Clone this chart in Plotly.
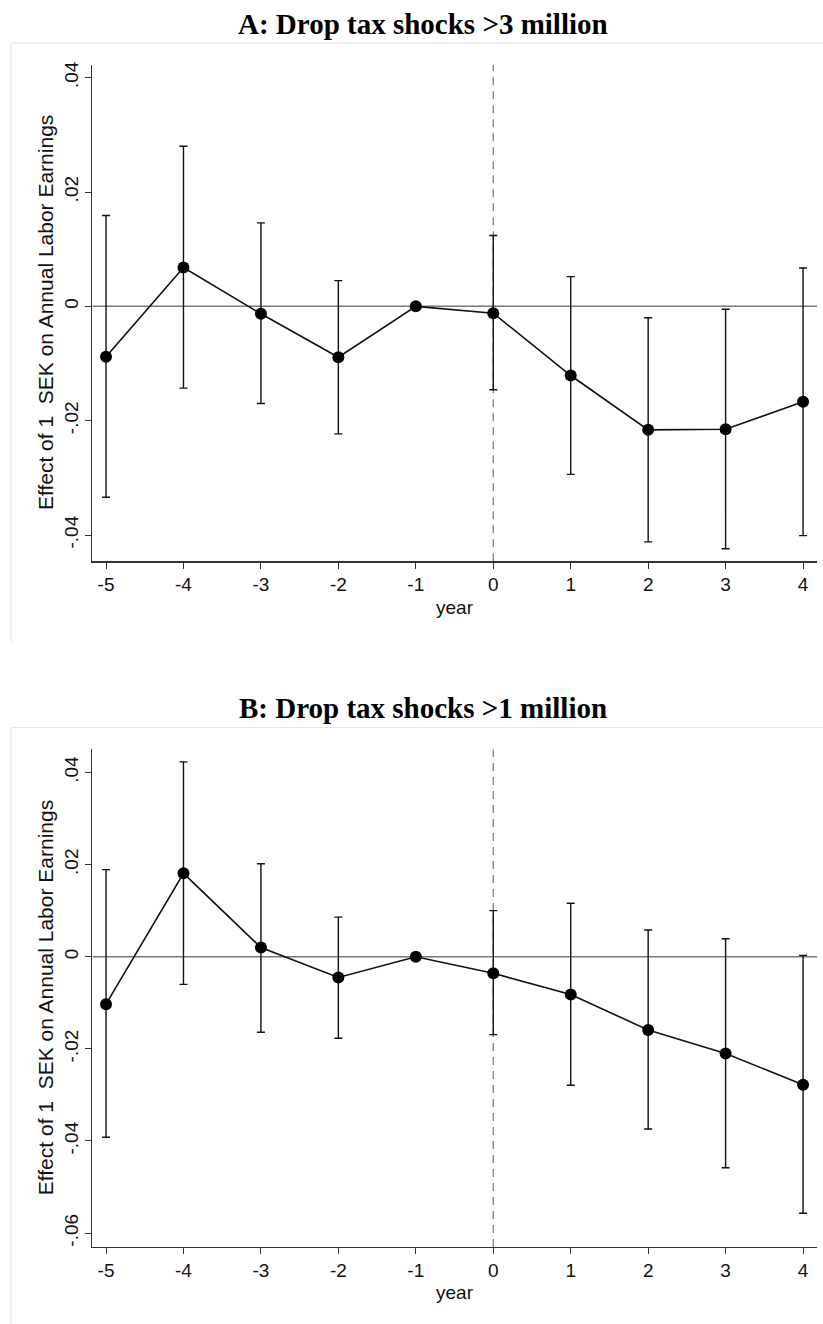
import plotly.graph_objects as go

years = [-5, -4, -3, -2, -1, 0, 1, 2, 3, 4]
tick_vals_x = [-5, -4, -3, -2, -1, 0, 1, 2, 3, 4]

# Panel A: drop tax shocks > 3 million
a_est = [-0.0088, 0.0068, -0.0013, -0.0089, 0.0, -0.0012, -0.0121, -0.0216, -0.0215, -0.0167]
a_hi = [0.0159, 0.0280, 0.0146, 0.0045, 0.0, 0.0124, 0.0052, -0.0020, -0.0005, 0.0067]
a_lo = [-0.0334, -0.0143, -0.0170, -0.0223, 0.0, -0.0146, -0.0294, -0.0412, -0.0424, -0.0401]
a_yticks = [-0.04, -0.02, 0, 0.02, 0.04]
a_yticktext = ["-.04", "-.02", "0", ".02", ".04"]

# Panel B: drop tax shocks > 1 million
b_est = [-0.0103, 0.0181, 0.0020, -0.0045, 0.0, -0.0036, -0.0082, -0.0159, -0.0210, -0.0278]
b_hi = [0.0189, 0.0423, 0.0202, 0.0086, 0.0, 0.0100, 0.0116, 0.0058, 0.0039, 0.0003]
b_lo = [-0.0392, -0.0060, -0.0164, -0.0177, 0.0, -0.0169, -0.0279, -0.0374, -0.0458, -0.0557]
b_yticks = [-0.06, -0.04, -0.02, 0, 0.02, 0.04]
b_yticktext = ["-.06", "-.04", "-.02", "0", ".02", ".04"]

titles = ["A: Drop tax shocks >3 million", "B: Drop tax shocks >1 million"]
ytitle = "Effect of 1  SEK on Annual Labor Earnings"
xtitle = "year"

W, H = 823, 1324
def px_x(p):
    return p / W
def px_y(p):
    return 1 - p / H

fig = go.Figure()

panels = [
    dict(est=a_est, hi=a_hi, lo=a_lo, yt=a_yticks, ytt=a_yticktext,
         yr=[-0.0446, 0.04225], top=61, bot=559, box_top=39, box_bot=640, title_y=20, xa="x", ya="y"),
    dict(est=b_est, hi=b_hi, lo=b_lo, yt=b_yticks, ytt=b_yticktext,
         yr=[-0.063, 0.045], top=747.7, bot=1246.7, box_top=725.7, box_bot=1324, title_y=706, xa="x2", ya="y2"),
]

xdom = [px_x(92.4), px_x(817)]
xr = [-5.176, 4.18]
font_tick = dict(family="Liberation Sans, Arial, sans-serif", size=19, color="#111")

layout = dict(
    width=W, height=H, margin=dict(l=0, r=0, t=0, b=0),
    paper_bgcolor="white", plot_bgcolor="white", showlegend=False,
)
shapes = []
annotations = []

for i, p in enumerate(panels):
    up = [h - e for h, e in zip(p["hi"], p["est"])]
    dn = [e - l for e, l in zip(p["est"], p["lo"])]
    fig.add_trace(go.Scatter(
        x=years, y=p["est"], mode="lines+markers",
        line=dict(color="#111", width=1.6),
        marker=dict(color="#000", size=12),
        error_y=dict(type="data", symmetric=False, array=up, arrayminus=dn,
                     color="#111", thickness=1.4, width=4),
        xaxis=p["xa"], yaxis=p["ya"], cliponaxis=False,
    ))
    sfx = "" if i == 0 else "2"
    layout["xaxis" + sfx] = dict(
        domain=xdom, range=xr, anchor="y" + sfx,
        tickmode="array", tickvals=tick_vals_x, ticktext=[str(v) for v in tick_vals_x],
        ticks="outside", ticklen=6, tickwidth=1, tickcolor="#333",
        showline=True, linecolor="#333", linewidth=1.3, showgrid=False, zeroline=False,
        tickfont=font_tick,
    )
    layout["yaxis" + sfx] = dict(
        domain=[px_y(p["bot"]), px_y(p["top"])], range=p["yr"], anchor="x" + sfx,
        tickmode="array", tickvals=p["yt"], ticktext=p["ytt"], tickangle=-90,
        ticks="outside", ticklen=6, tickwidth=1, tickcolor="#333",
        showline=True, linecolor="#333", linewidth=1.3, showgrid=False, zeroline=False,
        tickfont=font_tick,
    )
    # zero reference line
    shapes.append(dict(type="line", xref="x" + sfx + " domain", yref="y" + sfx,
                       x0=0, x1=1, y0=0, y1=0, line=dict(color="#777", width=1.5), layer="below"))
    # vertical dashed line at year 0
    shapes.append(dict(type="line", xref="x" + sfx, yref="y" + sfx + " domain",
                       x0=0, x1=0, y0=0, y1=1, line=dict(color="#777", width=1.2, dash="8px,6px"), layer="below"))
    # light panel frame (left + top)
    shapes.append(dict(type="line", xref="paper", yref="paper",
                       x0=px_x(11), x1=1, y0=px_y(p["box_top"]), y1=px_y(p["box_top"]),
                       line=dict(color="#e3e9eb", width=1.2)))
    shapes.append(dict(type="line", xref="paper", yref="paper",
                       x0=px_x(11), x1=px_x(11), y0=px_y(p["box_top"]), y1=px_y(p["box_bot"]),
                       line=dict(color="#e3e9eb", width=1.2)))
    # panel title
    annotations.append(dict(text="<b>" + titles[i] + "</b>", xref="paper", yref="paper",
                            x=px_x(423), y=px_y(p["title_y"]), xanchor="center", yanchor="middle",
                            showarrow=False,
                            font=dict(family="Liberation Serif, serif", size=29, color="#000")))
    # y axis title
    annotations.append(dict(text=ytitle, xref="paper", yref="paper",
                            x=px_x(45), y=px_y((p["top"] + p["bot"]) / 2), xanchor="center", yanchor="middle",
                            textangle=-90, showarrow=False,
                            font=dict(family="Liberation Sans, Arial, sans-serif", size=21, color="#111")))
    # x axis title
    annotations.append(dict(text=xtitle, xref="paper", yref="paper",
                            x=px_x(455), y=px_y(p["bot"] + 46), xanchor="center", yanchor="middle",
                            showarrow=False,
                            font=dict(family="Liberation Sans, Arial, sans-serif", size=19, color="#111")))

layout["shapes"] = shapes
layout["annotations"] = annotations
fig.update_layout(**layout)
fig.write_html("out.html", config={"displayModeBar": False, "staticPlot": True},
               post_script="document.body.style.margin='0';document.body.style.overflow='hidden';")
